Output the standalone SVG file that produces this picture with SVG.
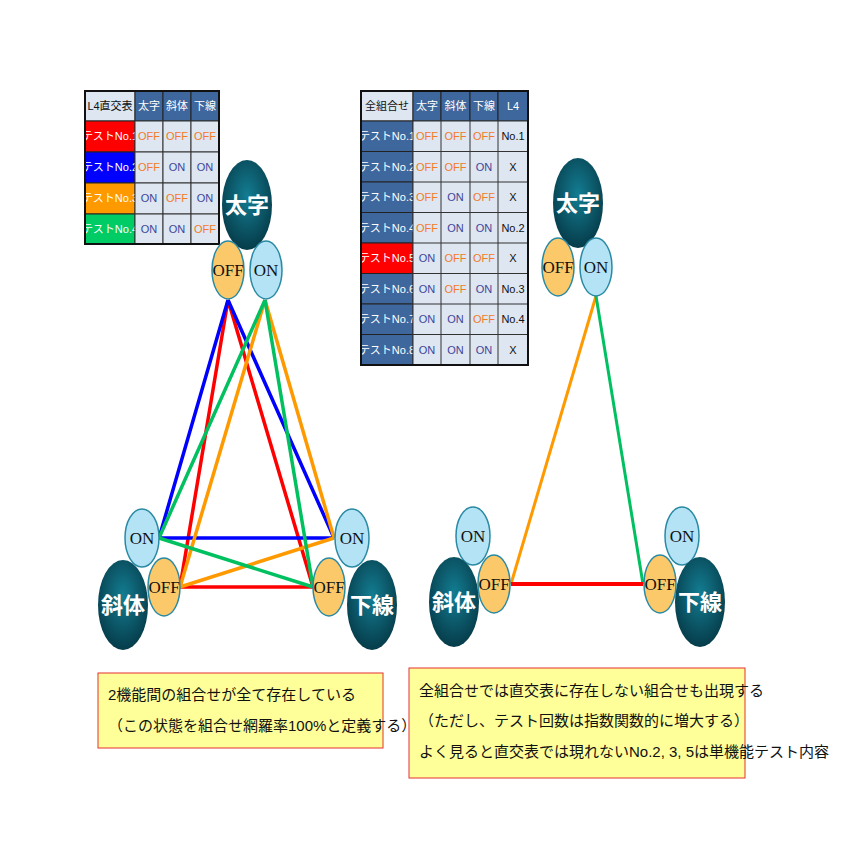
<svg xmlns="http://www.w3.org/2000/svg" width="848" height="848" viewBox="0 0 848 848">
<defs>
<radialGradient id="g" cx="50%" cy="40%" r="60%"><stop offset="0" stop-color="#137d92"/><stop offset="1" stop-color="#063c4a"/></radialGradient>
</defs>
<style>
text{font-family:"Liberation Sans Narrow","Liberation Sans","Noto Sans CJK JP",sans-serif}
.h{fill:#3e679d;stroke:#222;stroke-width:1}
.c{fill:#dde6f1;stroke:#333;stroke-width:1}
.w{fill:#dde6f1;stroke:#333;stroke-width:1}
.t{font-size:11px;text-anchor:middle;dominant-baseline:central}
.wt{fill:#fff}
.off{fill:#f37a28}
.on{fill:#3e4598}
.k{fill:#111}
.big{fill:url(#g)}
.bt{fill:#fff;font-size:22px;font-weight:bold;text-anchor:middle;dominant-baseline:central}
.eo{fill:#fbc96a;stroke:#2a8aa3;stroke-width:1.5}
.en{fill:#b3e3f5;stroke:#2a8aa3;stroke-width:1.5}
.et{font-family:"Liberation Serif",serif;font-size:17px;text-anchor:middle;dominant-baseline:central;fill:#111}
.ln{stroke-width:3.5;fill:none}
.box{fill:#ffff99;stroke:#e53030;stroke-width:1}
.bx{font-size:15px;fill:#111}
</style>
<g id="table1">
<rect x="85" y="91" width="50" height="30" class="w"/><text x="110" y="106" class="t k">L4直交表</text>
<rect x="135" y="91" width="28" height="30" class="h"/><text x="149" y="106" class="t wt">太字</text>
<rect x="163" y="91" width="28" height="30" class="h"/><text x="177" y="106" class="t wt">斜体</text>
<rect x="191" y="91" width="28" height="30" class="h"/><text x="205" y="106" class="t wt">下線</text>
<rect x="85" y="121" width="50" height="31" fill="#f00" stroke="#222"/><text x="110" y="136" class="t wt">テストNo.1</text>
<rect x="85" y="152" width="50" height="31" fill="#00f" stroke="#222"/><text x="110" y="167" class="t wt">テストNo.2</text>
<rect x="85" y="183" width="50" height="31" fill="#ff9900" stroke="#222"/><text x="110" y="198" class="t wt">テストNo.3</text>
<rect x="85" y="214" width="50" height="30" fill="#00cc66" stroke="#222"/><text x="110" y="229" class="t wt">テストNo.4</text>
<rect x="135" y="121" width="28" height="31" class="c"/><text x="149" y="136" class="t off">OFF</text>
<rect x="163" y="121" width="28" height="31" class="c"/><text x="177" y="136" class="t off">OFF</text>
<rect x="191" y="121" width="28" height="31" class="c"/><text x="205" y="136" class="t off">OFF</text>
<rect x="135" y="152" width="28" height="31" class="c"/><text x="149" y="167" class="t off">OFF</text>
<rect x="163" y="152" width="28" height="31" class="c"/><text x="177" y="167" class="t on">ON</text>
<rect x="191" y="152" width="28" height="31" class="c"/><text x="205" y="167" class="t on">ON</text>
<rect x="135" y="183" width="28" height="31" class="c"/><text x="149" y="198" class="t on">ON</text>
<rect x="163" y="183" width="28" height="31" class="c"/><text x="177" y="198" class="t off">OFF</text>
<rect x="191" y="183" width="28" height="31" class="c"/><text x="205" y="198" class="t on">ON</text>
<rect x="135" y="214" width="28" height="30" class="c"/><text x="149" y="229" class="t on">ON</text>
<rect x="163" y="214" width="28" height="30" class="c"/><text x="177" y="229" class="t on">ON</text>
<rect x="191" y="214" width="28" height="30" class="c"/><text x="205" y="229" class="t off">OFF</text>
<rect x="85" y="91" width="134" height="153" fill="none" stroke="#111" stroke-width="2"/>
</g>
<g id="table2">
<rect x="361" y="91" width="52" height="30" class="w"/><text x="387" y="106" class="t k">全組合せ</text>
<rect x="413" y="91" width="28" height="30" class="h"/><text x="427" y="106" class="t wt">太字</text>
<rect x="441" y="91" width="29" height="30" class="h"/><text x="455.500" y="106" class="t wt">斜体</text>
<rect x="470" y="91" width="28" height="30" class="h"/><text x="484" y="106" class="t wt">下線</text>
<rect x="498" y="91" width="30" height="30" class="h"/><text x="513" y="106" class="t wt">L4</text>
<g class="t">
<rect x="361" y="121" width="52" height="30.5" class="h"/><text x="387" y="136" class="t wt">テストNo.1</text>
<rect x="361" y="151.500" width="52" height="30.5" class="h"/><text x="387" y="167" class="t wt">テストNo.2</text>
<rect x="361" y="182" width="52" height="30.5" class="h"/><text x="387" y="197" class="t wt">テストNo.3</text>
<rect x="361" y="212.500" width="52" height="30.5" class="h"/><text x="387" y="228" class="t wt">テストNo.4</text>
<rect x="361" y="243" width="52" height="30.5" fill="#f00" stroke="#222"/><text x="387" y="258" class="t wt">テストNo.5</text>
<rect x="361" y="273.500" width="52" height="30.5" class="h"/><text x="387" y="289" class="t wt">テストNo.6</text>
<rect x="361" y="304" width="52" height="30.5" class="h"/><text x="387" y="319" class="t wt">テストNo.7</text>
<rect x="361" y="334.500" width="52" height="30.5" class="h"/><text x="387" y="350" class="t wt">テストNo.8</text>
</g>
<g>
<rect x="413" y="121" width="115" height="244" class="c"/>
<path d="M441 121V365M470 121V365M498 121V365M413 151.500H528M413 182H528M413 212.500H528M413 243H528M413 273.500H528M413 304H528M413 334.500H528" stroke="#333" stroke-width="1"/>
<text x="427" y="136" class="t off">OFF</text><text x="455.500" y="136" class="t off">OFF</text><text x="484" y="136" class="t off">OFF</text><text x="513" y="136" class="t k">No.1</text>
<text x="427" y="167" class="t off">OFF</text><text x="455.500" y="167" class="t off">OFF</text><text x="484" y="167" class="t on">ON</text><text x="513" y="167" class="t k">X</text>
<text x="427" y="197" class="t off">OFF</text><text x="455.500" y="197" class="t on">ON</text><text x="484" y="197" class="t off">OFF</text><text x="513" y="197" class="t k">X</text>
<text x="427" y="228" class="t off">OFF</text><text x="455.500" y="228" class="t on">ON</text><text x="484" y="228" class="t on">ON</text><text x="513" y="228" class="t k">No.2</text>
<text x="427" y="258" class="t on">ON</text><text x="455.500" y="258" class="t off">OFF</text><text x="484" y="258" class="t off">OFF</text><text x="513" y="258" class="t k">X</text>
<text x="427" y="289" class="t on">ON</text><text x="455.500" y="289" class="t off">OFF</text><text x="484" y="289" class="t on">ON</text><text x="513" y="289" class="t k">No.3</text>
<text x="427" y="319" class="t on">ON</text><text x="455.500" y="319" class="t on">ON</text><text x="484" y="319" class="t off">OFF</text><text x="513" y="319" class="t k">No.4</text>
<text x="427" y="350" class="t on">ON</text><text x="455.500" y="350" class="t on">ON</text><text x="484" y="350" class="t on">ON</text><text x="513" y="350" class="t k">X</text>
</g>
<rect x="361" y="91" width="167" height="274" fill="none" stroke="#111" stroke-width="2"/>
</g>
<g id="connectors">
<g stroke="#f00" class="ln"><path d="M228 300L180 587M228 300L313 587M180 587H313"/></g>
<g stroke="#00f" class="ln"><path d="M228 300L159 538M228 300L334 538M159 538H334"/></g>
<g stroke="#ff9900" class="ln"><path d="M265 300L180 587M265 300L334 538M180 587L334 538"/></g>
<g stroke="#00c060" class="ln"><path d="M265 300L159 538M265 300L313 587M159 538L313 587"/></g>
<path d="M596 296L511 584" stroke="#ff9900" stroke-width="3" fill="none"/>
<path d="M596 296L643 584" stroke="#00c060" stroke-width="3" fill="none"/>
<path d="M511 584H643" stroke="#f00" stroke-width="4" fill="none"/>
</g>
<g id="left-bold"><ellipse cx="247" cy="205" rx="25" ry="45" class="big"/><text x="247" y="205" class="bt">太字</text>
<ellipse cx="228" cy="270" rx="16" ry="29" class="eo"/><text x="228" y="270" class="et">OFF</text>
<ellipse cx="266" cy="270" rx="16" ry="29" class="en"/><text x="266" y="270" class="et">ON</text></g>
<g id="left-italic"><ellipse cx="142" cy="538" rx="17" ry="29" class="en"/><text x="142" y="538" class="et">ON</text>
<ellipse cx="123" cy="605" rx="25" ry="45" class="big"/><text x="123" y="605" class="bt">斜体</text>
<ellipse cx="164" cy="587" rx="16" ry="29" class="eo"/><text x="164" y="587" class="et">OFF</text></g>
<g id="left-underline"><ellipse cx="352" cy="538" rx="17" ry="29" class="en"/><text x="352" y="538" class="et">ON</text>
<ellipse cx="372" cy="605" rx="25" ry="45" class="big"/><text x="372" y="605" class="bt">下線</text>
<ellipse cx="329" cy="587" rx="16" ry="29" class="eo"/><text x="329" y="587" class="et">OFF</text></g>
<g id="right-bold"><ellipse cx="578" cy="203" rx="25" ry="45" class="big"/><text x="578" y="203" class="bt">太字</text>
<ellipse cx="558" cy="267" rx="16" ry="29" class="eo"/><text x="558" y="267" class="et">OFF</text>
<ellipse cx="596" cy="267" rx="16" ry="29" class="en"/><text x="596" y="267" class="et">ON</text></g>
<g id="right-italic"><ellipse cx="473" cy="536" rx="17" ry="29" class="en"/><text x="473" y="536" class="et">ON</text>
<ellipse cx="454" cy="602" rx="25" ry="45" class="big"/><text x="454" y="602" class="bt">斜体</text>
<ellipse cx="494" cy="584" rx="16" ry="29" class="eo"/><text x="494" y="584" class="et">OFF</text></g>
<g id="right-underline"><ellipse cx="682" cy="536" rx="17" ry="29" class="en"/><text x="682" y="536" class="et">ON</text>
<ellipse cx="700" cy="602" rx="25" ry="45" class="big"/><text x="700" y="602" class="bt">下線</text>
<ellipse cx="660" cy="584" rx="16" ry="29" class="eo"/><text x="660" y="584" class="et">OFF</text></g>
<g id="note1"><rect x="98" y="673" width="285" height="75" class="box"/>
<text x="108" y="700" class="bx">2機能間の組合せが全て存在している</text>
<text x="108" y="731" class="bx">（この状態を組合せ網羅率100%と定義する）</text></g>
<g id="note2"><rect x="409" y="668" width="336" height="110" class="box"/>
<text x="419" y="696" class="bx">全組合せでは直交表に存在しない組合せも出現する</text>
<text x="419" y="726" class="bx">（ただし、テスト回数は指数関数的に増大する）</text>
<text x="419" y="757" class="bx">よく見ると直交表では現れないNo.2, 3, 5は単機能テスト内容</text></g>
</svg>
